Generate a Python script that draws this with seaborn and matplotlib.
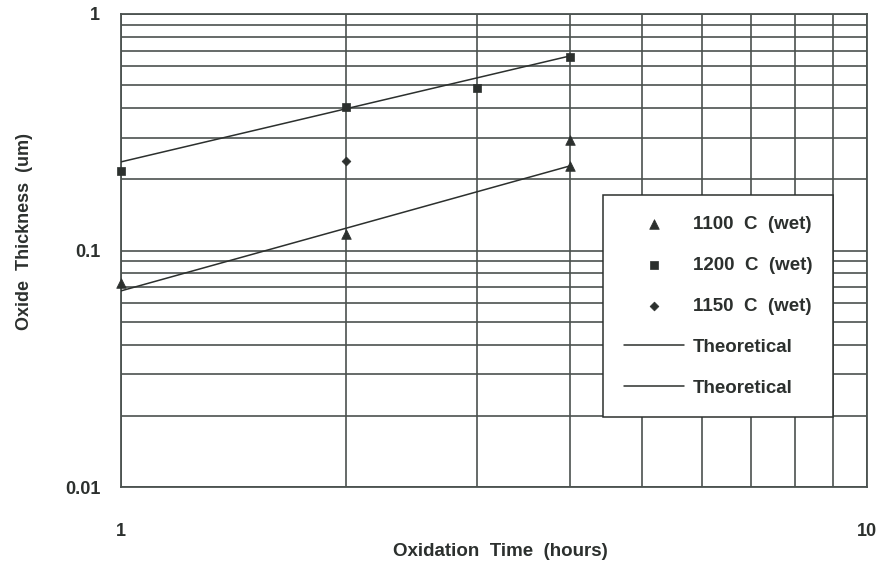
import matplotlib
matplotlib.use("Agg")
import matplotlib.pyplot as plt
import numpy as np
import pandas as pd
import seaborn as sns
from matplotlib.ticker import LogLocator, NullFormatter, FixedLocator, FixedFormatter

# Measured oxide thickness (um) versus oxidation time (hours)
hours_1100 = [1, 2, 4, 4]
thick_1100 = [0.073, 0.117, 0.228, 0.293]
hours_1200 = [1, 2, 3, 4]
thick_1200 = [0.217, 0.404, 0.486, 0.658]
hours_1150 = [2]
thick_1150 = [0.239]

# Theoretical growth curves
theory_hours = [1, 4]
theory_1200 = [0.237, 0.665]
theory_1100 = [0.0675, 0.228]

series_labels = ["1100  C  (wet)", "1200  C  (wet)", "1150  C  (wet)", "Theoretical", "Theoretical"]

x_ticks = [1, 10]
x_tick_labels = ["1", "10"]
y_ticks = [0.01, 0.1, 1]
y_tick_labels = ["0.01", "0.1", "1"]

sns.set_style("white")
plt.rcParams["font.family"] = ["Liberation Sans", "DejaVu Sans"]
plt.rcParams["font.weight"] = "bold"

ink = "#2c302e"
grid_col = "#4b524f"

fig = plt.figure(figsize=(8.82, 5.69), dpi=100)
ax = fig.add_axes([0.1372, 0.1441, 0.8458, 0.8313])
ax.set_xscale("log")
ax.set_yscale("log")
ax.set_xlim(1, 10)
ax.set_ylim(0.01, 1)

meas = pd.DataFrame({
    "hours": hours_1100 + hours_1200 + hours_1150,
    "thickness": thick_1100 + thick_1200 + thick_1150,
    "series": [series_labels[0]] * len(hours_1100)
    + [series_labels[1]] * len(hours_1200)
    + [series_labels[2]] * len(hours_1150),
})
theory = pd.DataFrame({
    "hours": theory_hours + theory_hours,
    "thickness": theory_1100 + theory_1200,
    "curve": ["1100"] * len(theory_hours) + ["1200"] * len(theory_hours),
})

marker_map = {series_labels[0]: "^", series_labels[1]: "s", series_labels[2]: "D"}
size_map = {series_labels[0]: 48, series_labels[1]: 40, series_labels[2]: 20}

for name in series_labels[:3]:
    sub = meas[meas["series"] == name]
    sns.scatterplot(data=sub, x="hours", y="thickness", marker=marker_map[name],
                    s=size_map[name], color=ink, edgecolor=ink, linewidth=0.5,
                    ax=ax, label=name, legend=False, zorder=4, clip_on=False)

for curve in ["1100", "1200"]:
    sub = theory[theory["curve"] == curve]
    sns.lineplot(data=sub, x="hours", y="thickness", color=ink, linewidth=1.1,
                 ax=ax, label="Theoretical", legend=False, zorder=3)

# Log grid: major and minor lines on both axes
ax.xaxis.set_major_locator(FixedLocator(x_ticks))
ax.xaxis.set_major_formatter(FixedFormatter(x_tick_labels))
ax.yaxis.set_major_locator(FixedLocator(y_ticks))
ax.yaxis.set_major_formatter(FixedFormatter(y_tick_labels))
ax.xaxis.set_minor_locator(LogLocator(base=10, subs=np.arange(2, 10)))
ax.yaxis.set_minor_locator(LogLocator(base=10, subs=np.arange(2, 10)))
ax.xaxis.set_minor_formatter(NullFormatter())
ax.yaxis.set_minor_formatter(NullFormatter())
ax.grid(True, which="both", color=grid_col, linewidth=1.2)
ax.set_axisbelow(True)

for sp in ax.spines.values():
    sp.set_color(grid_col)
    sp.set_linewidth(1.3)

ax.tick_params(axis="y", which="major", direction="out", length=5, width=1.1,
               color=grid_col, pad=10, labelsize=13, labelcolor=ink)
ax.tick_params(axis="x", which="major", length=0, pad=26, labelsize=13, labelcolor=ink)
ax.tick_params(which="minor", length=0)
for lab in ax.get_xticklabels() + ax.get_yticklabels():
    lab.set_fontweight("bold")

ax.set_xlabel("Oxidation  Time  (hours)", fontsize=13.5, fontweight="bold", color=ink)
ax.set_ylabel("Oxide  Thickness  (um)", fontsize=13, fontweight="bold", color=ink)
ax.xaxis.set_label_coords(0.508, -0.118)
ax.yaxis.set_label_coords(-0.118, 0.54)

h, l = ax.get_legend_handles_labels()
leg = ax.legend(h, l, loc="upper left", bbox_to_anchor=(0.646, 0.617),
                borderaxespad=0, frameon=True, fancybox=False, framealpha=1,
                edgecolor=ink, facecolor="white",
                prop={"weight": "bold", "size": 13.5},
                handlelength=3.2, handletextpad=0.5, labelspacing=1.27,
                borderpad=1.1, scatterpoints=1)
leg.get_frame().set_linewidth(1.1)
leg.set_zorder(10)
for t in leg.get_texts():
    t.set_color(ink)

fig.savefig("out.png", dpi=100, facecolor="white")
